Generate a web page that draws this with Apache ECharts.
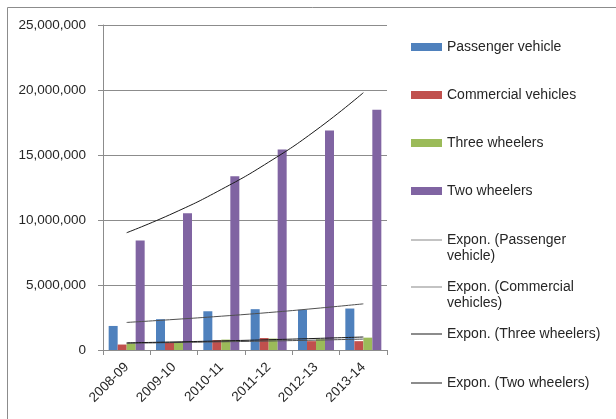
<!DOCTYPE html>
<html>
<head>
<meta charset="utf-8">
<script src="https://cdn.jsdelivr.net/npm/echarts@6/dist/echarts.min.js"></script>
<style>
  html, body { margin: 0; padding: 0; background: #fff; }
  #chart { width: 616px; height: 419px; }
</style>
</head>
<body>
<div id="chart"></div>
<script>
// Vehicle production by year and segment
const years = ['2008-09', '2009-10', '2010-11', '2011-12', '2012-13', '2013-14'];

const passengerVehicle   = [1850000, 2370000, 2980000, 3140000, 3090000, 3190000];
const commercialVehicles = [420000, 560000, 760000, 920000, 680000, 680000];
const threeWheelers      = [500000, 620000, 800000, 880000, 830000, 950000];
const twoWheelers        = [8420000, 10510000, 13370000, 15430000, 16880000, 18490000];

// Exponential trend values at each year
const passengerTrend  = [2120000, 2350000, 2600000, 2880000, 3200000, 3550000];
const commercialTrend = [520000, 570000, 630000, 690000, 760000, 840000];
const threeTrend      = [550000, 620000, 700000, 790000, 890000, 1000000];
const twoTrend        = [9020000, 10550000, 12350000, 14450000, 16910000, 19790000];

const yTicks = { min: 0, max: 25000000, step: 5000000 };

const FONT = 'Liberation Sans';
const TEXT = '#262626';
const GRID = '#8c8c8c';

const barNames = ['Passenger vehicle', 'Commercial vehicles', 'Three wheelers', 'Two wheelers'];
const barColors = ['#4F81BD', '#C0504D', '#9BBB59', '#8064A2'];
const barData = [passengerVehicle, commercialVehicles, threeWheelers, twoWheelers];

const trendNames = ['Expon. (Passenger vehicle)', 'Expon. (Commercial vehicles)',
                    'Expon. (Three wheelers)', 'Expon. (Two wheelers)'];
// Wrapped entries get a blank leading line so the key sits beside the first line
const trendLabels = [' \nExpon. (Passenger\nvehicle)', ' \nExpon. (Commercial\nvehicles)',
                     'Expon. (Three wheelers)', 'Expon. (Two wheelers)'];
const trendColors = ['#505050', '#505050', '#1a1a1a', '#1a1a1a'];
const legendIconColors = ['#8a8a8a', '#8a8a8a', '#202020', '#202020'];
const trendData = [passengerTrend, commercialTrend, threeTrend, twoTrend];

const series = [];
barNames.forEach((n, i) => {
  series.push({
    name: n, type: 'bar', data: barData[i],
    barWidth: 9, barGap: '0%',
    itemStyle: { color: barColors[i] }
  });
});
trendNames.forEach((n, i) => {
  series.push({
    name: n, type: 'line', data: trendData[i],
    smooth: true, symbol: 'none', z: 5,
    lineStyle: { color: trendColors[i], width: 1 },
    itemStyle: { color: trendColors[i] }
  });
});

// One legend block per entry so each row sits on its own line
const legendCenters = [47, 95, 143, 191, 240, 287, 334, 383];
const legends = [];
barNames.forEach((n, i) => {
  legends.push({
    data: [n], left: 411, top: legendCenters[i] - 8, padding: 0,
    icon: 'rect', itemWidth: 31, itemHeight: 8, itemGap: 4,
    selectedMode: false,
    textStyle: { fontFamily: FONT, fontSize: 14, color: TEXT, lineHeight: 16 }
  });
});
trendNames.forEach((n, i) => {
  const twoLine = trendLabels[i].indexOf('\n') >= 0;
  legends.push({
    data: [n], left: 411, top: legendCenters[4 + i] - (twoLine ? 24 : 8), padding: 0,
    icon: 'path://M0,0H30V1H0Z', itemWidth: 31, itemHeight: 1.5, itemGap: 4,
    selectedMode: false,
    itemStyle: { color: legendIconColors[i], borderWidth: 0 },
    lineStyle: { color: legendIconColors[i], width: 1 },
    formatter: () => trendLabels[i],
    textStyle: { fontFamily: FONT, fontSize: 14, color: TEXT, lineHeight: 16 }
  });
});

const chart = echarts.init(document.getElementById('chart'), null, { renderer: 'canvas' });
chart.setOption({
  animation: false,
  backgroundColor: '#fff',
  textStyle: { fontFamily: FONT },
  graphic: [{
    type: 'rect', shape: { x: 7.5, y: 7.5, width: 640, height: 440 },
    style: { fill: 'none', stroke: '#8c8c8c', lineWidth: 1 }, silent: true, z: -1
  }],
  grid: { left: 103, right: 229, top: 25, bottom: 69, containLabel: false },
  legend: legends,
  xAxis: {
    type: 'category', data: years, boundaryGap: true,
    axisLine: { lineStyle: { color: GRID, width: 1 } },
    axisTick: { show: true, length: 5, lineStyle: { color: GRID } },
    axisLabel: { rotate: 45, fontFamily: FONT, fontSize: 13.5, color: TEXT, margin: 15 }
  },
  yAxis: {
    type: 'value', min: yTicks.min, max: yTicks.max, interval: yTicks.step,
    axisLine: { show: true, lineStyle: { color: GRID, width: 1 } },
    axisTick: { show: true, length: 5, lineStyle: { color: GRID } },
    splitLine: { lineStyle: { color: GRID, width: 1 } },
    axisLabel: {
      fontFamily: FONT, fontSize: 13.5, color: TEXT, margin: 17,
      formatter: v => v.toLocaleString('en-US')
    }
  },
  series: series
});
</script>
</body>
</html>
